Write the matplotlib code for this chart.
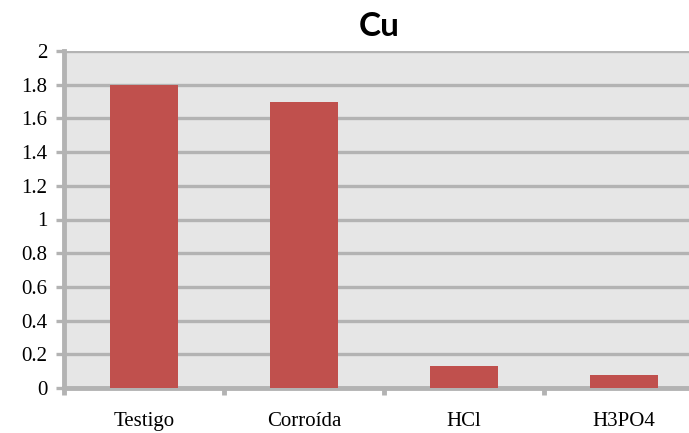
import numpy as np
import matplotlib.pyplot as plt

categorias = ['Testigo', 'Corroída', 'HCl', 'H3PO4']
valores = [1.80, 1.70, 0.13, 0.075]
yticks = [0, 0.2, 0.4, 0.6, 0.8, 1, 1.2, 1.4, 1.6, 1.8, 2]
ytick_labels = ['0', '0.2', '0.4', '0.6', '0.8', '1', '1.2', '1.4', '1.6', '1.8', '2']

W, H = 689, 433
fig = plt.figure(figsize=(W / 100, H / 100), dpi=100)
ax = fig.add_axes([64 / W, (H - 388) / H, 1 - 64 / W, 337 / H])

gris = '#b3b3b3'
ax.set_facecolor('#e6e6e6')

x = np.arange(len(categorias))
ax.bar(x, valores, width=0.42, color='#c0504d', zorder=3)

ax.set_yticks(yticks)
ax.set_yticklabels(ytick_labels)
ax.yaxis.grid(True, color=gris, linewidth=2.4, zorder=1)
ax.set_axisbelow(True)

# etiquetas de categoría centradas, marcas entre categorías
ax.set_xticks(x)
ax.set_xticklabels(categorias)
ax.set_xticks(np.arange(len(categorias) + 1) - 0.5, minor=True)
ax.tick_params(axis='x', which='major', length=0, pad=17)
ax.tick_params(axis='x', which='minor', length=5, width=3.5, color=gris, direction='out')
ax.tick_params(axis='y', length=6, width=2.4, color=gris, pad=6)

# límites al final: set_xticks los amplía
ax.set_ylim(0, 2)
ax.set_xlim(-0.5, -0.5 + (W - 64) / 160)

for lab in ax.get_xticklabels() + ax.get_yticklabels():
    lab.set_fontfamily('Liberation Serif')
    lab.set_fontsize(15)

for s in ['top', 'right']:
    ax.spines[s].set_visible(False)
for s in ['left', 'bottom']:
    ax.spines[s].set_color(gris)
    ax.spines[s].set_linewidth(3.5)

fig.text(379 / W, 1 - 26 / H, 'Cu', ha='center', va='center',
         fontsize=24, fontweight='bold', family='Lato')

fig.savefig('out.png', dpi=100)
